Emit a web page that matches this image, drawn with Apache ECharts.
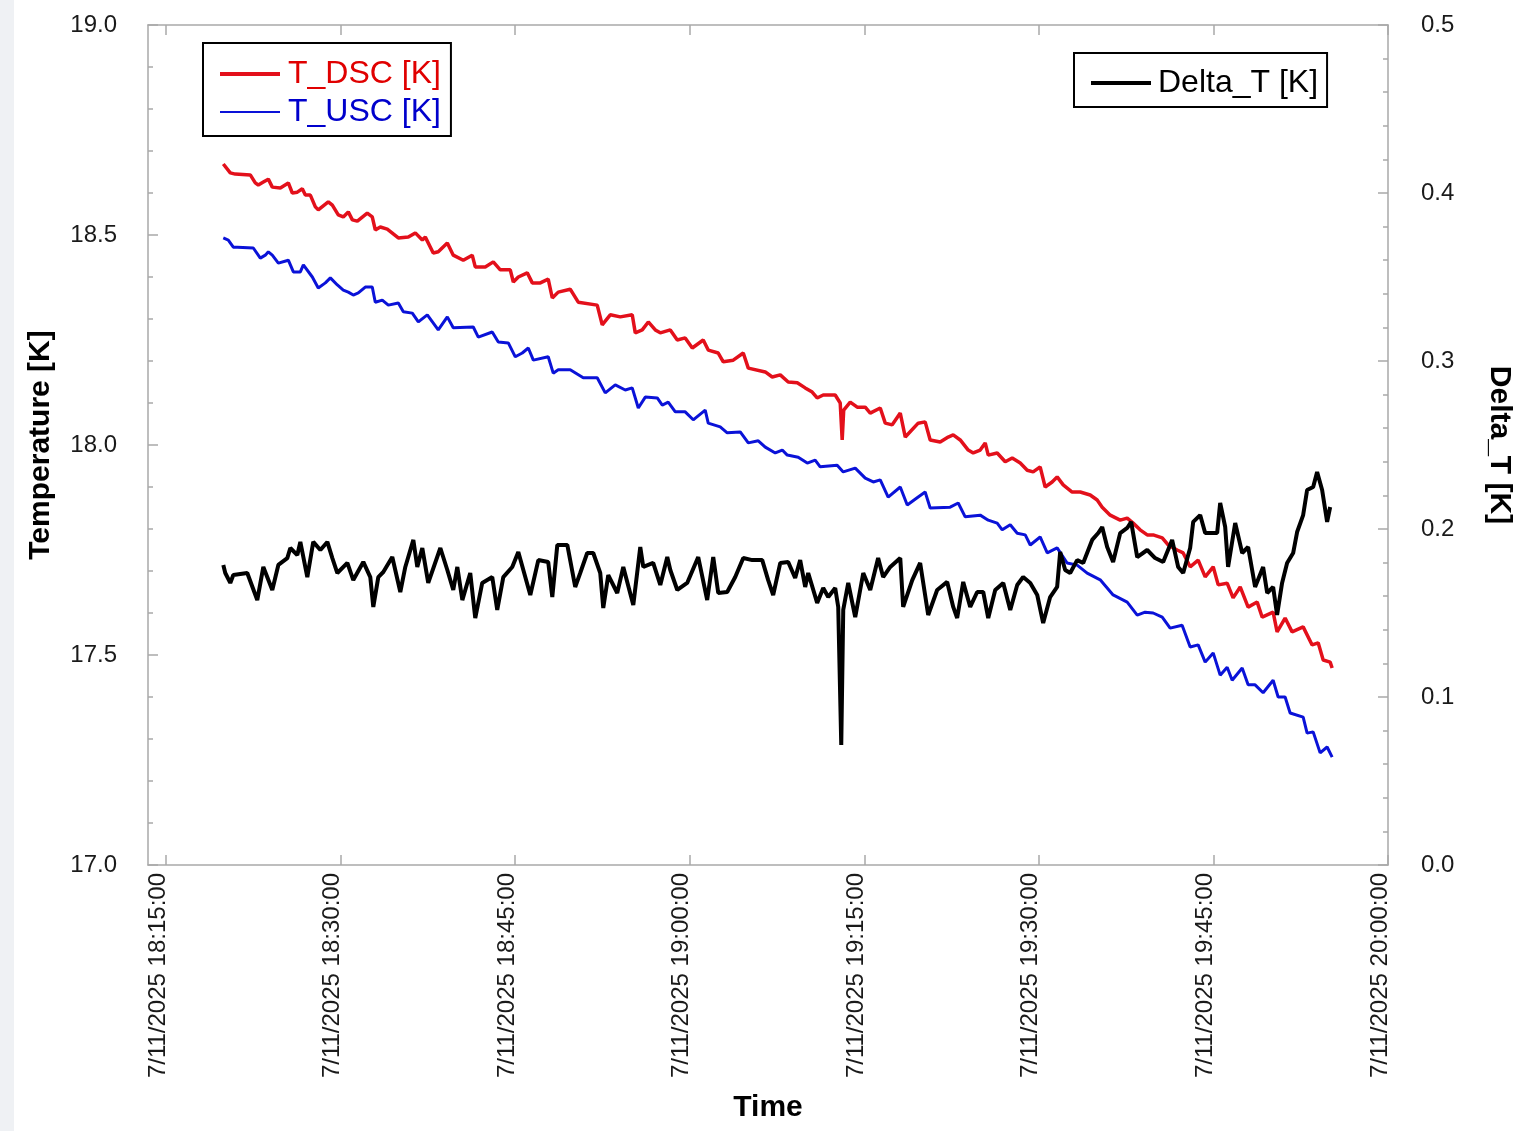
<!DOCTYPE html>
<html>
<head>
<meta charset="utf-8">
<title>T_DSC / T_USC / Delta_T</title>
<script src="https://cdn.jsdelivr.net/npm/echarts@6/dist/echarts.min.js"></script>
<style>
  html, body { margin: 0; padding: 0; background: #ffffff; overflow: hidden; width: 1514px; height: 1131px; }
  #chart { width: 1514px; height: 1131px; }
</style>
</head>
<body>
<div id="chart"></div>
<script>
// Time is given in minutes after 18:00 on 7/11/2025.
const dateLabel = '7/11/2025';
const timeTicks = [15, 30, 45, 60, 75, 90, 105, 120];
const timeMin = 13.45;
const timeMax = 120;

// Downstream sensor temperature [K]: [minutes after 18:00, value]
const tDsc = [
  [19.92,18.669],[20.52,18.648],[20.95,18.645],[22.24,18.643],[22.67,18.624],[22.93,18.619],[23.36,18.626],[23.79,18.633],
  [24.13,18.614],[24.82,18.612],[25.51,18.624],[25.85,18.600],[26.28,18.602],[26.71,18.610],[26.97,18.595],[27.40,18.595],
  [27.83,18.567],[28.08,18.560],[28.94,18.579],[29.29,18.571],[29.80,18.548],[30.23,18.543],[30.66,18.555],[31.01,18.536],
  [31.44,18.533],[32.29,18.552],[32.72,18.543],[32.98,18.512],[33.41,18.519],[34.01,18.514],[34.96,18.493],[35.82,18.495],
  [36.42,18.505],[37.02,18.488],[37.28,18.495],[37.96,18.457],[38.39,18.460],[39.17,18.481],[39.68,18.452],[40.54,18.440],
  [41.31,18.452],[41.57,18.424],[42.43,18.424],[43.12,18.436],[43.72,18.417],[44.58,18.417],[44.84,18.388],[45.27,18.400],
  [46.04,18.410],[46.47,18.386],[47.16,18.386],[47.84,18.395],[48.19,18.350],[48.70,18.364],[49.73,18.371],[50.42,18.340],
  [52.05,18.333],[52.48,18.286],[53.17,18.310],[54.03,18.305],[55.06,18.310],[55.32,18.267],[55.92,18.274],[56.44,18.293],
  [57.04,18.274],[57.47,18.267],[58.33,18.274],[58.93,18.250],[59.61,18.255],[60.22,18.231],[61.16,18.250],[61.59,18.226],
  [62.45,18.219],[62.88,18.198],[63.74,18.202],[64.60,18.219],[65.03,18.183],[66.49,18.174],[67.09,18.162],[67.78,18.167],
  [68.46,18.150],[69.24,18.148],[69.92,18.136],[70.52,18.126],[70.95,18.112],[71.47,18.119],[72.50,18.119],[72.93,18.100],
  [73.10,18.012],[73.23,18.083],[73.79,18.102],[74.39,18.090],[75.08,18.090],[75.51,18.076],[76.37,18.088],[76.80,18.052],
  [77.40,18.048],[78.09,18.076],[78.52,18.019],[79.63,18.052],[80.23,18.055],[80.66,18.012],[81.52,18.007],[82.21,18.019],
  [82.64,18.024],[83.24,18.012],[83.93,17.988],[84.36,17.981],[84.96,17.988],[85.39,18.005],[85.65,17.976],[86.42,17.981],
  [87.11,17.960],[87.71,17.969],[88.40,17.957],[89.00,17.940],[89.51,17.936],[90.11,17.948],[90.54,17.900],[91.14,17.912],
  [91.57,17.924],[92.09,17.905],[92.86,17.888],[93.55,17.888],[94.41,17.881],[95.01,17.869],[95.44,17.852],[96.13,17.833],
  [96.99,17.821],[97.59,17.826],[98.10,17.814],[98.70,17.798],[99.31,17.786],[99.82,17.786],[100.60,17.779],[101.11,17.762],
  [101.88,17.750],[102.40,17.743],[103.00,17.710],[103.69,17.726],[104.29,17.686],[104.98,17.710],[105.41,17.667],[106.18,17.671],
  [106.69,17.636],[107.30,17.662],[107.98,17.614],[108.76,17.626],[109.19,17.590],[110.13,17.602],[110.47,17.555],[111.16,17.588],
  [111.76,17.555],[112.71,17.567],[113.48,17.524],[114.00,17.529],[114.43,17.488],[115.03,17.483],[115.20,17.469]
];

// Upstream sensor temperature [K]
const tUsc = [
  [19.92,18.493],[20.35,18.488],[20.78,18.471],[21.13,18.471],[22.50,18.469],[23.10,18.445],[23.53,18.452],[23.79,18.460],
  [24.13,18.452],[24.65,18.433],[25.51,18.440],[25.94,18.412],[26.54,18.412],[26.80,18.429],[27.57,18.400],[28.08,18.374],
  [28.69,18.386],[29.12,18.398],[29.72,18.381],[30.23,18.369],[30.66,18.364],[31.09,18.357],[31.52,18.362],[32.12,18.376],
  [32.72,18.376],[32.98,18.340],[33.58,18.345],[34.10,18.333],[34.96,18.338],[35.39,18.317],[36.16,18.314],[36.68,18.293],
  [37.45,18.310],[38.39,18.274],[39.17,18.305],[39.68,18.279],[41.40,18.281],[41.83,18.257],[43.03,18.269],[43.55,18.245],
  [44.41,18.243],[45.01,18.210],[45.61,18.219],[46.13,18.231],[46.56,18.202],[47.84,18.210],[48.27,18.171],[48.70,18.179],
  [49.73,18.179],[50.85,18.160],[52.05,18.160],[52.74,18.124],[53.60,18.143],[54.46,18.131],[55.06,18.136],[55.58,18.088],
  [56.18,18.114],[57.21,18.112],[57.64,18.095],[58.15,18.102],[58.76,18.079],[59.61,18.079],[60.30,18.060],[61.33,18.083],
  [61.59,18.052],[62.62,18.043],[63.22,18.029],[64.34,18.031],[65.03,18.005],[65.89,18.010],[66.49,17.995],[67.35,17.981],
  [67.95,17.988],[68.38,17.976],[69.32,17.971],[70.10,17.957],[70.78,17.964],[71.21,17.948],[72.67,17.952],[73.19,17.936],
  [74.22,17.945],[75.08,17.921],[75.77,17.912],[76.37,17.917],[77.05,17.876],[78.09,17.900],[78.69,17.857],[79.63,17.876],
  [80.23,17.888],[80.66,17.850],[82.38,17.852],[83.07,17.862],[83.67,17.829],[84.96,17.833],[85.65,17.821],[86.42,17.814],
  [86.85,17.798],[87.54,17.810],[88.14,17.790],[88.83,17.786],[89.26,17.762],[90.11,17.781],[90.72,17.743],[91.57,17.755],
  [92.43,17.719],[93.29,17.714],[94.15,17.695],[95.27,17.679],[96.38,17.643],[97.59,17.626],[98.45,17.595],[99.13,17.602],
  [99.82,17.600],[100.60,17.590],[101.28,17.564],[102.31,17.571],[103.00,17.519],[103.69,17.524],[104.29,17.483],[104.98,17.505],
  [105.58,17.452],[106.18,17.471],[106.61,17.440],[107.47,17.469],[107.98,17.429],[108.58,17.429],[109.27,17.410],[110.13,17.440],
  [110.56,17.400],[111.16,17.400],[111.59,17.362],[112.71,17.352],[113.05,17.314],[113.57,17.317],[114.17,17.267],[114.77,17.281],
  [115.20,17.257]
];

// Temperature difference DSC - USC [K]
const deltaT = [
  [19.92,0.1786],[20.09,0.1738],[20.52,0.1679],[20.78,0.1726],[21.98,0.1738],[22.84,0.1577],[23.36,0.1774],[24.13,0.1637],
  [24.65,0.1786],[25.42,0.1827],[25.68,0.1887],[26.28,0.1845],[26.54,0.1923],[27.14,0.1714],[27.65,0.1923],[28.26,0.1875],
  [28.86,0.1923],[29.29,0.1827],[29.72,0.1738],[30.58,0.1798],[31.09,0.1696],[31.95,0.1804],[32.55,0.1714],[32.81,0.1536],
  [33.24,0.1714],[33.67,0.1744],[34.44,0.1833],[35.13,0.1625],[35.56,0.1774],[36.25,0.1935],[36.59,0.1774],[37.02,0.1887],
  [37.53,0.1679],[38.57,0.1887],[39.17,0.1756],[39.68,0.1637],[40.03,0.1774],[40.46,0.1577],[41.14,0.1738],[41.57,0.1470],
  [42.17,0.1679],[43.03,0.1714],[43.46,0.1518],[43.98,0.1714],[44.75,0.1774],[45.27,0.1863],[46.30,0.1607],[46.99,0.1815],
  [47.84,0.1804],[48.19,0.1595],[48.62,0.1905],[49.48,0.1905],[50.16,0.1655],[50.59,0.1738],[51.19,0.1857],[51.71,0.1857],
  [52.31,0.1738],[52.57,0.1530],[53.00,0.1726],[53.77,0.1619],[54.29,0.1774],[55.15,0.1548],[55.75,0.1893],[56.01,0.1774],
  [56.86,0.1798],[57.47,0.1667],[58.07,0.1833],[58.33,0.1756],[58.93,0.1637],[59.78,0.1679],[60.73,0.1833],[61.50,0.1577],
  [62.02,0.1833],[62.45,0.1619],[63.22,0.1625],[63.91,0.1714],[64.60,0.1827],[65.37,0.1815],[66.23,0.1815],[66.74,0.1696],
  [67.17,0.1607],[67.78,0.1798],[68.46,0.1804],[69.06,0.1708],[69.49,0.1815],[69.92,0.1655],[70.18,0.1738],[70.95,0.1560],
  [71.47,0.1649],[71.90,0.1595],[72.50,0.1649],[72.76,0.1536],[73.02,0.0714],[73.19,0.1518],[73.62,0.1679],[74.22,0.1476],
  [74.91,0.1738],[75.51,0.1637],[76.19,0.1827],[76.62,0.1714],[77.23,0.1774],[78.09,0.1827],[78.34,0.1536],[79.12,0.1696],
  [79.80,0.1798],[80.49,0.1488],[81.26,0.1637],[82.12,0.1685],[82.64,0.1536],[82.98,0.1470],[83.50,0.1685],[84.10,0.1536],
  [84.70,0.1625],[85.22,0.1625],[85.65,0.1470],[86.25,0.1637],[86.94,0.1679],[87.54,0.1518],[88.14,0.1667],[88.65,0.1714],
  [89.26,0.1679],[89.86,0.1607],[90.37,0.1440],[90.97,0.1595],[91.57,0.1655],[91.83,0.1863],[92.26,0.1756],[92.69,0.1738],
  [93.29,0.1815],[93.81,0.1798],[94.58,0.1935],[95.10,0.1976],[95.44,0.2012],[95.87,0.1893],[96.38,0.1804],[96.99,0.1976],
  [97.59,0.2006],[97.93,0.2042],[98.45,0.1833],[99.31,0.1875],[99.99,0.1827],[100.68,0.1804],[101.45,0.1935],[101.97,0.1774],
  [102.40,0.1738],[103.00,0.1887],[103.26,0.2042],[103.86,0.2083],[104.29,0.1976],[105.32,0.1976],[105.58,0.2155],[106.01,0.2012],
  [106.26,0.1774],[106.87,0.2036],[107.47,0.1857],[107.98,0.1893],[108.58,0.1655],[109.27,0.1774],[109.62,0.1619],[110.13,0.1655],
  [110.47,0.1488],[110.90,0.1679],[111.33,0.1798],[111.85,0.1857],[112.19,0.1982],[112.71,0.2083],[113.05,0.2232],[113.57,0.2250],
  [113.91,0.2339],[114.34,0.2232],[114.77,0.2042],[115.03,0.2131]
];

const FONT = '"Liberation Sans", Arial, Helvetica, sans-serif';
const AXIS_GREY = '#a9a9a9';
const RED = '#e3101b';
const BLUE = '#0a12d8';

function pad2(n) { return (n < 10 ? '0' : '') + n; }
function timeLabel(v) {
  const total = Math.round(v);
  const h = 18 + Math.floor(total / 60);
  const m = total % 60;
  return dateLabel + ' ' + h + ':' + pad2(m) + ':00';
}

const axisLineStyle = { color: AXIS_GREY, width: 1.5 };

const chart = echarts.init(document.getElementById('chart'), null, { renderer: 'canvas', width: 1514, height: 1131 });

chart.setOption({
  animation: false,
  backgroundColor: '#ffffff',
  textStyle: { fontFamily: FONT },
  graphic: [{
    type: 'rect', left: 0, top: 0, silent: true, z: -10,
    shape: { width: 14, height: 1131 },
    style: { fill: '#eff1f4' }
  }],
  grid: {
    left: 148, right: 126, top: 25, bottom: 266,
    containLabel: false, outerBoundsMode: 'none'
  },
  legend: [
    {
      orient: 'vertical', left: 203, top: 43,
      selectedMode: false,
      backgroundColor: '#ffffff',
      borderColor: '#000000', borderWidth: 2,
      padding: [14, 10, 7, 17],
      itemWidth: 60, itemHeight: 14, itemGap: 4,
      textStyle: { fontFamily: FONT, fontSize: 32, lineHeight: 34, padding: [0, 0, 0, 3] },
      data: [
        { name: 'T_DSC [K]', icon: 'path://M0,0H60V4H0Z', textStyle: { color: '#e00000' } },
        { name: 'T_USC [K]', icon: 'path://M0,0H60V2H0Z', textStyle: { color: '#0000cc' } }
      ]
    },
    {
      orient: 'vertical', left: 1074, top: 53,
      selectedMode: false,
      backgroundColor: '#ffffff',
      borderColor: '#000000', borderWidth: 2,
      padding: [13, 9, 7, 17],
      itemWidth: 60, itemHeight: 14,
      textStyle: { fontFamily: FONT, fontSize: 32, lineHeight: 34, color: '#000000', padding: [0, 0, 0, 2] },
      data: [{ name: 'Delta_T [K]', icon: 'path://M0,0H60V4H0Z' }]
    }
  ],
  xAxis: [
    {
      type: 'value', position: 'bottom', min: timeMin, max: timeMax,
      name: 'Time', nameLocation: 'middle', nameGap: 228,
      nameTextStyle: { fontFamily: FONT, fontSize: 30, fontWeight: 'bold', color: '#000' },
      axisLine: { show: true, onZero: false, lineStyle: axisLineStyle },
      axisTick: { show: true, inside: true, length: 10, customValues: timeTicks, lineStyle: axisLineStyle },
      axisLabel: {
        show: true, customValues: timeTicks, rotate: 90, margin: 8,
        verticalAlign: 'bottom', lineHeight: 16,
        fontFamily: FONT, fontSize: 24, color: '#1a1a1a',
        formatter: timeLabel
      },
      splitLine: { show: false }
    },
    {
      type: 'value', position: 'top', min: timeMin, max: timeMax,
      axisLine: { show: true, onZero: false, lineStyle: axisLineStyle },
      axisTick: { show: true, inside: true, length: 10, customValues: timeTicks, lineStyle: axisLineStyle },
      axisLabel: { show: false },
      splitLine: { show: false }
    }
  ],
  yAxis: [
    {
      type: 'value', position: 'left', min: 17, max: 19, interval: 0.5,
      name: 'Temperature [K]', nameLocation: 'middle', nameGap: 92, nameRotate: 90,
      nameTextStyle: { fontFamily: FONT, fontSize: 30, fontWeight: 'bold', color: '#000' },
      axisLine: { show: true, onZero: false, lineStyle: axisLineStyle },
      axisTick: { show: true, inside: true, length: 10, lineStyle: axisLineStyle },
      minorTick: { show: true, splitNumber: 5, length: 5, lineStyle: axisLineStyle },
      axisLabel: {
        margin: 31, fontFamily: FONT, fontSize: 24, color: '#1a1a1a',
        formatter: v => v.toFixed(1)
      },
      splitLine: { show: false },
      minorSplitLine: { show: false }
    },
    {
      type: 'value', position: 'right', min: 0, max: 0.5, interval: 0.1,
      name: 'Delta_T [K]', nameLocation: 'middle', nameGap: 96, nameRotate: -90,
      nameTextStyle: { fontFamily: FONT, fontSize: 30, fontWeight: 'bold', color: '#000' },
      axisLine: { show: true, onZero: false, lineStyle: axisLineStyle },
      axisTick: { show: true, inside: true, length: 10, lineStyle: axisLineStyle },
      minorTick: { show: true, splitNumber: 5, length: 5, lineStyle: axisLineStyle },
      axisLabel: {
        margin: 33, fontFamily: FONT, fontSize: 24, color: '#1a1a1a',
        formatter: v => v.toFixed(1)
      },
      splitLine: { show: false },
      minorSplitLine: { show: false }
    }
  ],
  series: [
    {
      name: 'T_DSC [K]', type: 'line', xAxisIndex: 0, yAxisIndex: 0,
      data: tDsc, symbol: 'none', showSymbol: false,
      lineStyle: { color: RED, width: 3.5 }, itemStyle: { color: RED },
      z: 2
    },
    {
      name: 'T_USC [K]', type: 'line', xAxisIndex: 0, yAxisIndex: 0,
      data: tUsc, symbol: 'none', showSymbol: false,
      lineStyle: { color: BLUE, width: 3 }, itemStyle: { color: BLUE },
      z: 2
    },
    {
      name: 'Delta_T [K]', type: 'line', xAxisIndex: 0, yAxisIndex: 1,
      data: deltaT, symbol: 'none', showSymbol: false,
      lineStyle: { color: '#000000', width: 4 }, itemStyle: { color: '#000000' },
      z: 3
    }
  ]
});
</script>
</body>
</html>
